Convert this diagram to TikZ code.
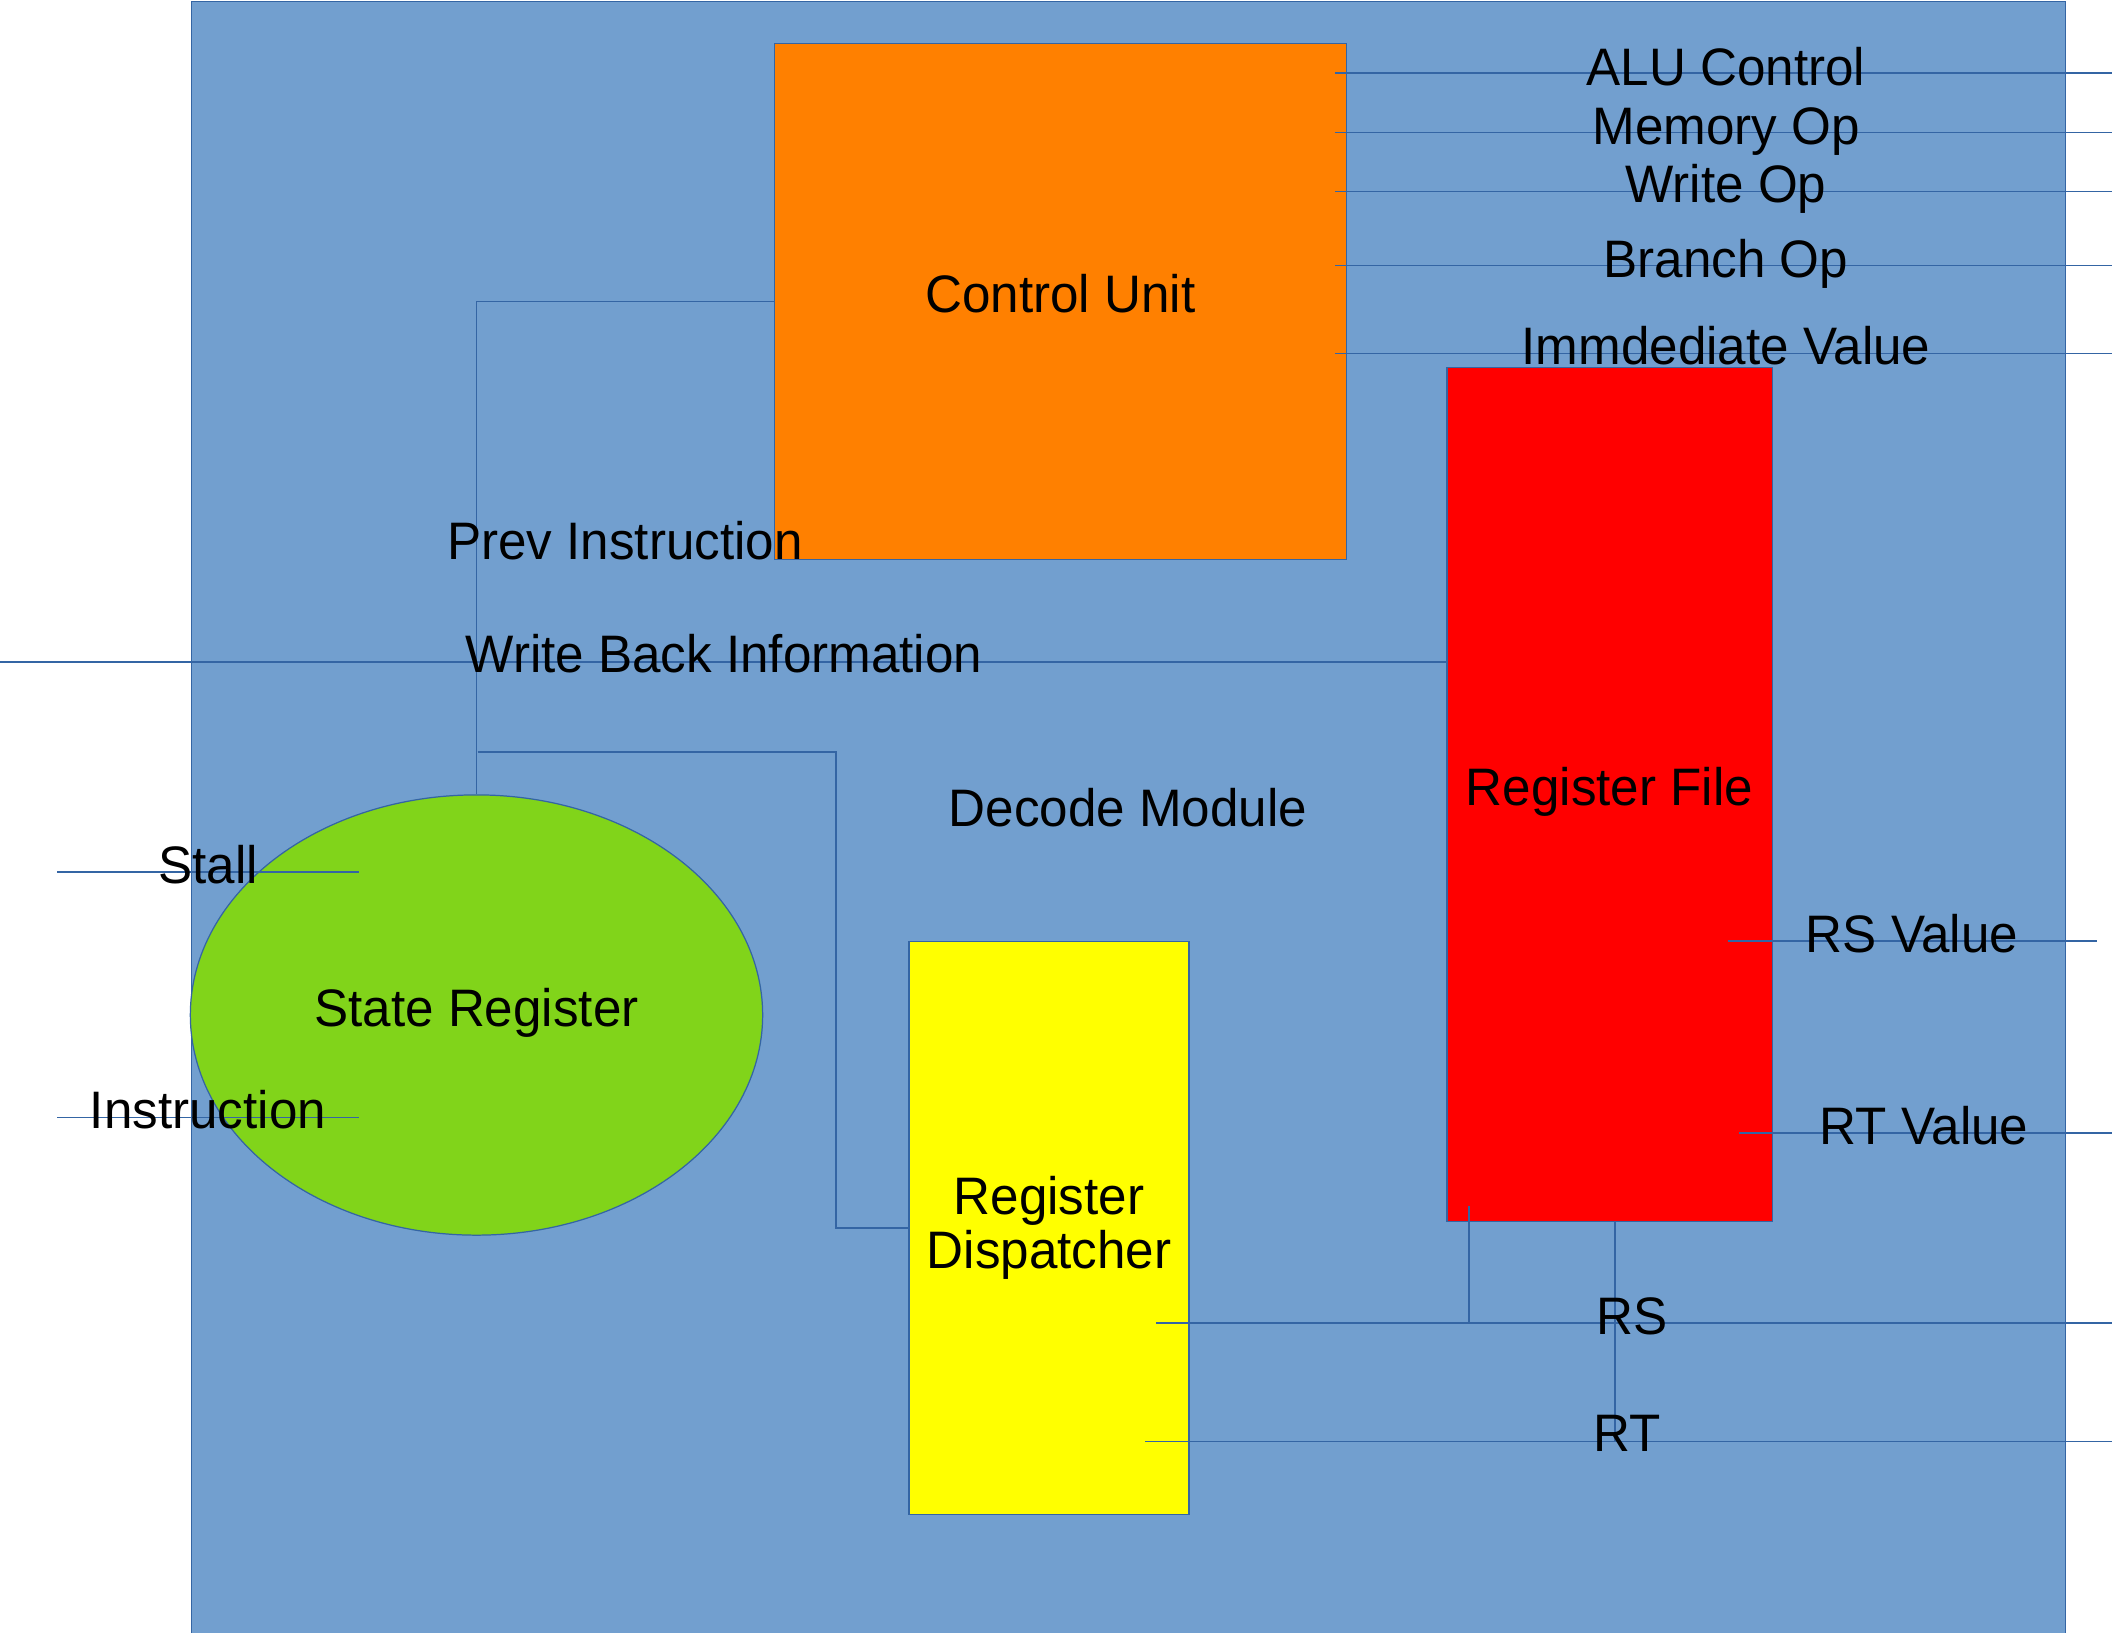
\documentclass[tikz,border=0pt]{standalone}
\usepackage{fontspec}
\setmainfont{Liberation Sans}[FakeStretch=0.97]
\usetikzlibrary{shapes.geometric}
\definecolor{bgfill}{HTML}{729FCF}
\definecolor{edgeblue}{HTML}{3465A4}
\definecolor{cuorange}{HTML}{FF8000}
\definecolor{rfred}{HTML}{FF0000}
\definecolor{rdyellow}{HTML}{FFFF00}
\definecolor{srgreen}{HTML}{81D41A}
\newcommand\blocktxt{\fontsize{15pt}{15.2pt}\selectfont}
\begin{document}
\begin{tikzpicture}[x=0.01cm,y=-0.01cm,
  wire/.style={draw=edgeblue, line width=0.35pt},
  blockbox/.style={draw=edgeblue, line width=0.35pt, inner sep=0pt, font=\blocktxt, text depth=0.16cm},
  lbl/.style={anchor=base, inner sep=0pt, font=\blocktxt}]
\useasboundingbox (0,0) rectangle (2112,1632);
\clip (0,0) rectangle (2112,1632);
% Decode module background
\node[draw=edgeblue, fill=bgfill, line width=0.35pt, inner sep=0pt,
      minimum width=18.73cm, minimum height=16.6cm, anchor=north west] (dm) at (191,0.6) {};
% blocks
\node[blockbox, fill=cuorange, minimum width=5.71cm, minimum height=5.15cm] (cu) at (1060.5,301.5) {Control Unit};
\node[blockbox, fill=rfred, minimum width=3.25cm, minimum height=8.53cm] (rf) at (1609.5,794.5) {Register File};
\node[draw=edgeblue, fill=rdyellow, line width=0.35pt, inner sep=0pt, minimum width=2.80cm,
      minimum height=5.72cm, align=center, font=\blocktxt] (rd) at (1049,1228) {Register\\Dispatcher};
\node[blockbox, ellipse, fill=srgreen, minimum width=5.72cm, minimum height=4.40cm] (sr) at (476.5,1015) {State Register};
% coordinates
\coordinate (aluA) at (1335,73);    \coordinate (aluB) at (2112,73);
\coordinate (memA) at (1335,132.3); \coordinate (memB) at (2112,132.3);
\coordinate (wrA) at (1335,191.3);  \coordinate (wrB) at (2112,191.3);
\coordinate (brA) at (1335,265.3);  \coordinate (brB) at (2112,265.3);
\coordinate (imA) at (1335,353.3);  \coordinate (imB) at (2112,353.3);
\coordinate (wbA) at (0,662);
\coordinate (stA) at (57,872);      \coordinate (stB) at (359,872);
\coordinate (inA) at (57,1117.3);   \coordinate (inB) at (359,1117.3);
\coordinate (jn) at (477.5,752);    \coordinate (bend) at (836,752);
\coordinate (rsvA) at (1727.5,941); \coordinate (rsvB) at (2097,941);
\coordinate (rtvA) at (1739,1133);  \coordinate (rtvB) at (2112,1133);
\coordinate (rsA) at (1156,1323);   \coordinate (rsB) at (2112,1323);
\coordinate (rtA) at (1145,1441.7); \coordinate (rtB) at (2112,1441.7);
\coordinate (rsT) at (1469,1206);   \coordinate (rsJ) at (1469,1323);
\coordinate (rtT) at (1615,1221);   \coordinate (rtJ) at (1615,1441.7);
% wires
\draw[wire] (aluA) -- (aluB);
\draw[wire] (memA) -- (memB);
\draw[wire] (wrA) -- (wrB);
\draw[wire] (brA) -- (brB);
\draw[wire] (imA) -- (imB);
\draw[wire] (wbA) -- (wbA -| rf.west);
\draw[wire] (sr.north) -- (sr.north |- cu.west) -- (cu.west);
\draw[wire] (jn) -- (bend) |- (rd.west);
\draw[wire] (stA) -- (stB);
\draw[wire] (inA) -- (inB);
\draw[wire] (rsvA) -- (rsvB);
\draw[wire] (rtvA) -- (rtvB);
\draw[wire] (rsA) -- (rsB);
\draw[wire] (rtA) -- (rtB);
\draw[wire] (rsT) -- (rsJ);
\draw[wire] (rtT) -- (rtJ);
% labels
\node[lbl] (lalu) at (1726,85) {ALU Control};
\node[lbl] (lmem) at (1726,144) {Memory Op};
\node[lbl] (lwr) at (1726,202) {Write Op};
\node[lbl] (lbr) at (1726,277) {Branch Op};
\node[lbl] (lim) at (1726,364) {Immdediate Value};
\node[lbl] (lprev) at (625,559.5) {Prev Instruction};
\node[lbl] (lwb) at (724,672.8) {Write Back Information};
\node[lbl] (ldm) at (1128,826.7) {Decode Module};
\node[lbl] (lst) at (208,883) {Stall};
\node[lbl] (lin) at (208,1128.3) {Instruction};
\node[lbl] (lrsv) at (1912,952.7) {RS Value};
\node[lbl] (lrtv) at (1924,1144) {RT Value};
\node[lbl] (lrs) at (1632,1334) {RS};
\node[lbl] (lrt) at (1627,1451.7) {RT};
\end{tikzpicture}
\end{document}
